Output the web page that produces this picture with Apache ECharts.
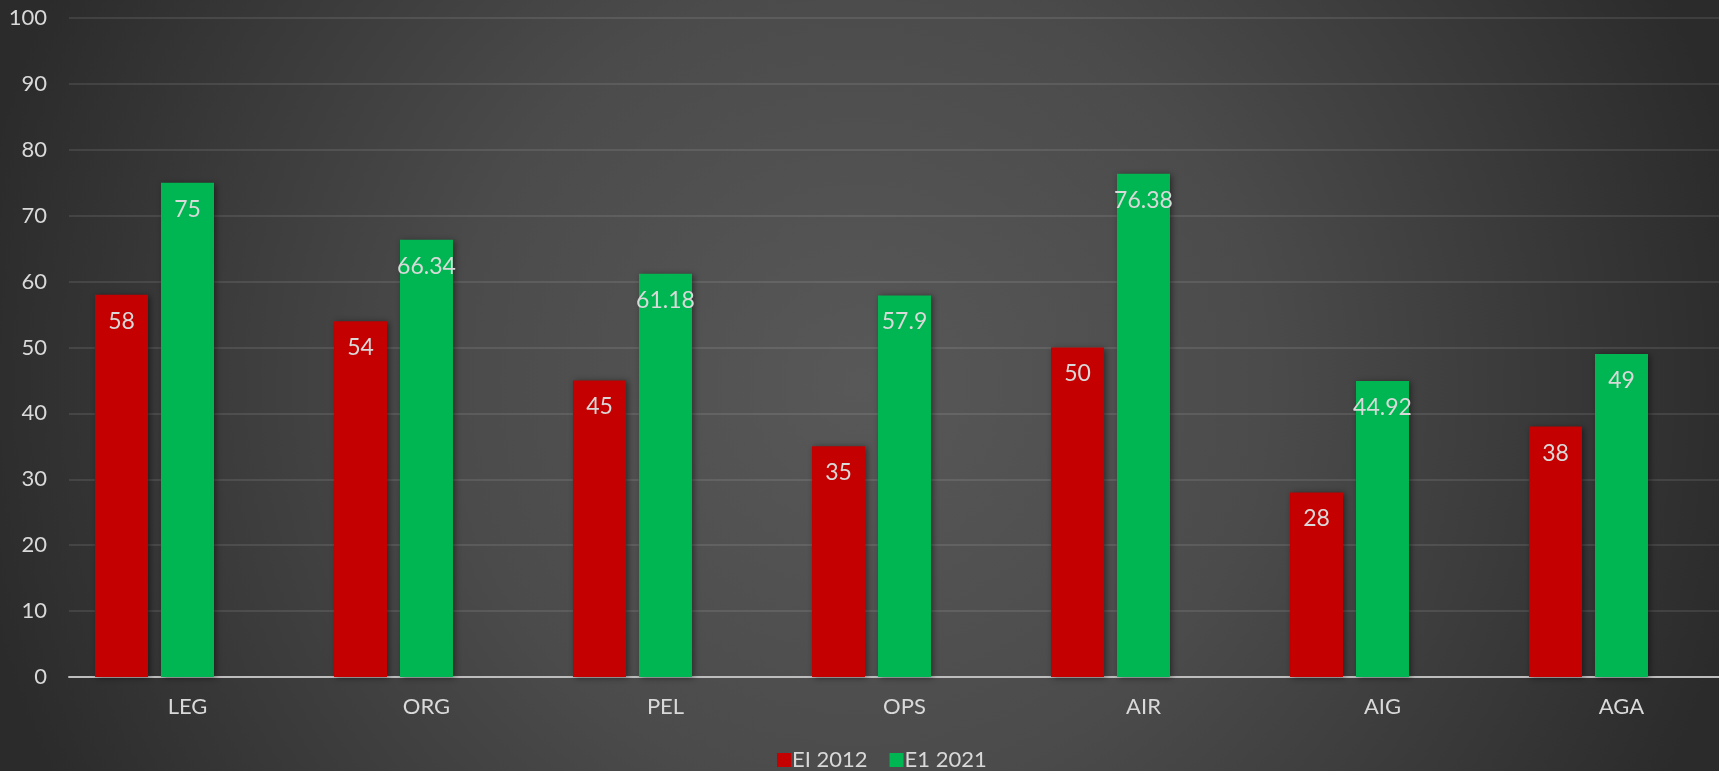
<!DOCTYPE html>
<html>
<head>
<meta charset="utf-8">
<script src="https://cdn.jsdelivr.net/npm/echarts@6/dist/echarts.min.js"></script>
<style>
html,body{margin:0;padding:0;}
#chart{width:1719px;height:771px;background:radial-gradient(circle 900px at 50% 50%, #585858 0%, #4b4b4b 45%, #2b2b2b 100%);}
</style>
</head>
<body>
<div id="chart"></div>
<script>
const categories = ['LEG', 'ORG', 'PEL', 'OPS', 'AIR', 'AIG', 'AGA'];
const seriesNames = ['EI 2012', 'E1 2021'];
const values2012 = [58, 54, 45, 35, 50, 28, 38];
const values2021 = [75, 66.34, 61.18, 57.9, 76.38, 44.92, 49];
const yTicks = [0, 10, 20, 30, 40, 50, 60, 70, 80, 90, 100];

const FONT = 'Lato';
const TXT = '#d9d9d9';
const chart = echarts.init(document.getElementById('chart'), null, {renderer: 'canvas'});

const barLabel = {
  show: true,
  position: 'insideTop',
  distance: 15,
  color: TXT,
  fontFamily: FONT,
  fontSize: 23
};
const shadow = {shadowBlur: 6, shadowColor: 'rgba(0,0,0,0.45)', shadowOffsetX: 2, shadowOffsetY: 1};

chart.setOption({
  backgroundColor: 'transparent',
  animation: false,
  legend: {
    data: seriesNames,
    left: 777,
    top: 749,
    padding: 0,
    itemWidth: 14,
    itemHeight: 14,
    itemGap: 22,
    icon: 'rect',
    textStyle: {color: TXT, fontFamily: FONT, fontSize: 22, padding: [0, 0, 0, -4]}
  },
  grid: [
    {left: 69, right: 0, top: 18, bottom: 94},
    {left: 35, right: 11, top: 18, bottom: 94}
  ],
  xAxis: [
    {
      gridIndex: 0, type: 'category', data: categories,
      axisLine: {show: true, lineStyle: {color: '#bdbdbd', width: 2}},
      axisTick: {show: false}, axisLabel: {show: false}
    },
    {
      gridIndex: 1, type: 'category', data: categories,
      axisLine: {show: false}, axisTick: {show: false},
      axisLabel: {
        color: TXT, fontFamily: FONT, fontSize: 22, margin: 19,
        padding: [0, 0, 0, 66]
      }
    }
  ],
  yAxis: [
    {
      gridIndex: 0, type: 'value', min: yTicks[0], max: yTicks[yTicks.length - 1], interval: 10,
      axisLine: {show: false}, axisTick: {show: false},
      axisLabel: {color: TXT, fontFamily: FONT, fontSize: 22, margin: 22},
      splitLine: {show: true, lineStyle: {color: 'rgba(255,255,255,0.13)', width: 1.5}}
    },
    {
      gridIndex: 1, type: 'value', min: yTicks[0], max: yTicks[yTicks.length - 1], interval: 10,
      show: false, splitLine: {show: false}
    }
  ],
  series: [
    {
      name: seriesNames[0], type: 'bar', xAxisIndex: 1, yAxisIndex: 1,
      data: values2012, barWidth: 53, barGap: '24.5%',
      itemStyle: Object.assign({color: '#C40000'}, shadow),
      label: barLabel
    },
    {
      name: seriesNames[1], type: 'bar', xAxisIndex: 1, yAxisIndex: 1,
      data: values2021, barWidth: 53, barGap: '24.5%',
      itemStyle: Object.assign({color: '#00B652'}, shadow),
      label: barLabel
    }
  ]
});
</script>
</body>
</html>
